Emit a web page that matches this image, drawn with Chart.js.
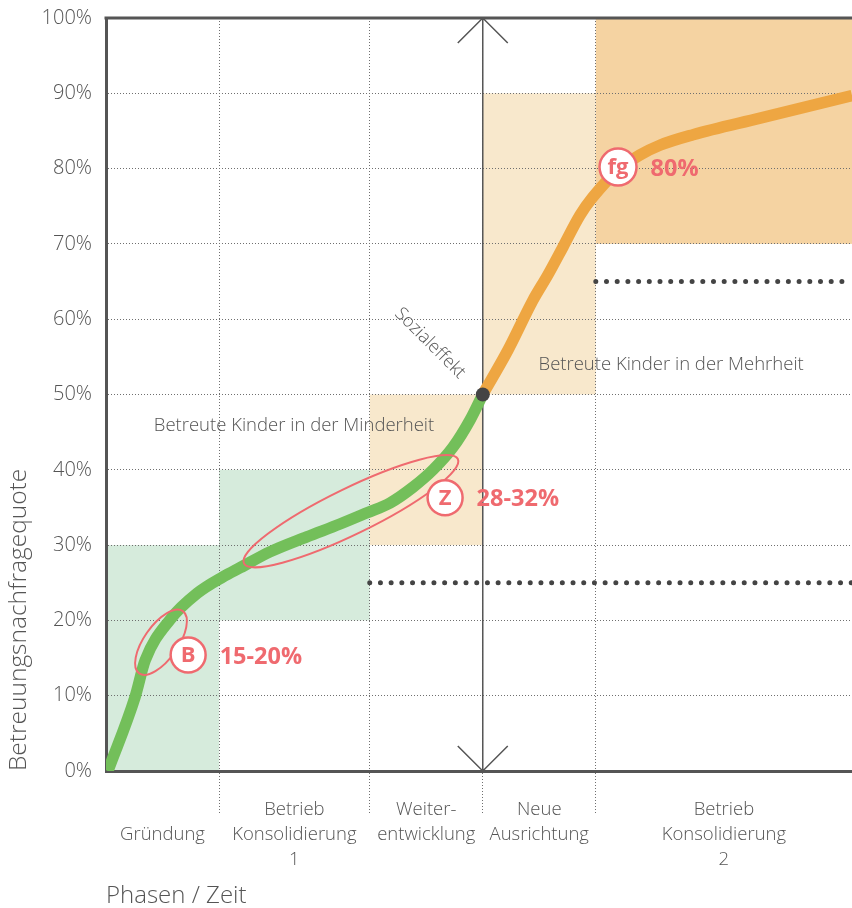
<!DOCTYPE html>
<html>
<head>
<meta charset="utf-8">
<script src="https://cdn.jsdelivr.net/npm/chart.js@4/dist/chart.umd.min.js"></script>
<style>
  html, body { margin:0; padding:0; background:#fff; }
  #wrap { width:852px; height:908px; }
</style>
</head>
<body>
<div id="wrap"><canvas id="chart" width="852" height="908"></canvas></div>
<script>
/* phases along the time axis */
const phaseBounds = [0, 3, 7, 10, 13, 19.8];
const phaseLabels = [
  ['', 'Gründung', ''],
  ['Betrieb', 'Konsolidierung', '1'],
  ['Weiter-', 'entwicklung', ''],
  ['Neue', 'Ausrichtung', ''],
  ['Betrieb', 'Konsolidierung', '2'],
];
const yTickValues = [0, 10, 20, 30, 40, 50, 60, 70, 80, 90, 100];

/* demand curve: green up to the social effect, orange after it */
const greenX = [0.05, 0.77, 1.04, 1.70, 2.42, 3.11, 3.56, 4.35, 5.33, 6.21, 6.93, 7.54, 8.15, 8.68, 9.21, 9.66, 10.0];
const greenY = [0, 9.8, 14.7, 20.1, 23.6, 25.8, 27.0, 29.1, 31.1, 32.8, 34.3, 35.6, 37.7, 40.0, 43.0, 46.6, 50.0];
const orangeX = [10.0, 10.67, 11.33, 11.73, 12.13, 12.58, 12.92, 13.59, 14.17, 14.70, 15.58, 17.36, 19.8];
const orangeY = [50.0, 55.9, 62.5, 65.9, 69.6, 73.8, 76.2, 79.8, 81.8, 83.1, 84.5, 86.7, 89.7];

/* shaded target zones */
const zoneX0 = [0, 3, 7, 10, 13];
const zoneX1 = [3, 7, 10, 13, 19.8];
const zoneY0 = [0, 20, 30, 50, 70];
const zoneY1 = [30, 40, 50, 90, 100];
const zoneColors = ['#d6ebdc', '#d6ebdc', '#f8e8cc', '#f8e8cc', '#f5d3a2'];

/* dotted threshold lines */
const thresholdY = [25, 65];
const thresholdFrom = [7, 13];

/* red markers */
const markerLetters = ['B', 'Z', 'fg'];
const markerX = [2.18, 9.0, 13.59];
const markerY = [15.4, 36.3, 80.2];
const markerTexts = ['15-20%', '28-32%', '80%'];
const ellipseX = [1.46, 6.5];
const ellipseY = [17.1, 34.5];

const RED = '#ef6a6f';
const GREY = '#555';
const GRID = '#6f6f6f';
const FONT = '"Open Sans", "DejaVu Sans", sans-serif';
const xMax = phaseBounds[phaseBounds.length - 1];
const TOP = 18;

const pts = (xs, ys) => xs.map((x, i) => ({ x, y: ys[i] }));

const shading = {
  id: 'shading',
  beforeDraw(chart) {
    const { ctx, scales: { x, y } } = chart;
    ctx.save();
    zoneX0.forEach((v, i) => {
      const l = x.getPixelForValue(v), r = x.getPixelForValue(zoneX1[i]);
      const t = y.getPixelForValue(zoneY1[i]), b = y.getPixelForValue(zoneY0[i]);
      ctx.fillStyle = zoneColors[i];
      ctx.fillRect(l, t, r - l, b - t);
    });
    ctx.restore();
  },
  beforeDatasetsDraw(chart) {
    // the "Sozialeffekt" axis with arrow heads at both ends
    const { ctx, chartArea: a, scales: { x } } = chart;
    const px = x.getPixelForValue(phaseBounds[3]);
    ctx.save();
    ctx.strokeStyle = GREY;
    ctx.lineWidth = 1.5;
    ctx.beginPath();
    ctx.moveTo(px, a.top); ctx.lineTo(px, a.bottom);
    ctx.moveTo(px - 25, a.top + 25); ctx.lineTo(px, a.top); ctx.lineTo(px + 25, a.top + 25);
    ctx.moveTo(px - 25, a.bottom - 25); ctx.lineTo(px, a.bottom); ctx.lineTo(px + 25, a.bottom - 25);
    ctx.stroke();
    // top frame
    ctx.lineWidth = 3;
    ctx.beginPath();
    ctx.moveTo(a.left - 1.5, a.top); ctx.lineTo(a.right, a.top);
    ctx.stroke();
    ctx.restore();
  }
};

const overlay = {
  id: 'overlay',
  afterDatasetsDraw(chart) {
    const { ctx, scales: { x, y } } = chart;
    ctx.save();
    // zone captions
    ctx.fillStyle = GREY;
    ctx.font = '300 18.5px ' + FONT;
    ctx.textAlign = 'center';
    ctx.textBaseline = 'middle';
    ctx.fillText('Betreute Kinder in der Minderheit', x.getPixelForValue(4.99), y.getPixelForValue(45.9));
    ctx.fillText('Betreute Kinder in der Mehrheit', x.getPixelForValue(15.0), y.getPixelForValue(53.9));
    ctx.save();
    ctx.translate(x.getPixelForValue(8.6), y.getPixelForValue(56.8));
    ctx.rotate(Math.PI / 4);
    ctx.font = '300 18px ' + FONT;
    ctx.fillText('Sozialeffekt', 0, 0);
    ctx.restore();

    // ellipses
    ctx.strokeStyle = RED;
    ctx.lineWidth = 2;
    const ell = [[38, 17, -55], [119, 23, -26]];
    ellipseX.forEach((v, i) => {
      ctx.beginPath();
      ctx.ellipse(x.getPixelForValue(v), y.getPixelForValue(ellipseY[i]), ell[i][0], ell[i][1], ell[i][2] * Math.PI / 180, 0, Math.PI * 2);
      ctx.stroke();
    });

    // circled letters + values
    markerLetters.forEach((m, i) => {
      const cx = x.getPixelForValue(markerX[i]), cy = y.getPixelForValue(markerY[i]);
      const r = m.length > 1 ? 18.5 : 17.5;
      ctx.beginPath();
      ctx.arc(cx, cy, r, 0, Math.PI * 2);
      ctx.fillStyle = '#fff';
      ctx.fill();
      ctx.lineWidth = 2.5;
      ctx.stroke();
      ctx.fillStyle = RED;
      ctx.font = 'bold 22px ' + FONT;
      ctx.textAlign = 'center';
      ctx.fillText(m, cx, cy + 1);
      ctx.textAlign = 'left';
      ctx.font = 'bold 23.5px ' + FONT;
      ctx.fillText(markerTexts[i], cx + r + 14, cy + 2);
    });
    ctx.restore();
  },
  afterDraw(chart) {
    const { ctx, chartArea: a, scales: { x } } = chart;
    ctx.save();
    ctx.fillStyle = GREY;
    ctx.font = '300 18.5px ' + FONT;
    ctx.textAlign = 'center';
    ctx.textBaseline = 'middle';
    phaseLabels.forEach((lines, i) => {
      const cx = (x.getPixelForValue(phaseBounds[i]) + x.getPixelForValue(phaseBounds[i + 1])) / 2;
      lines.forEach((t, j) => { if (t) ctx.fillText(t, cx, a.bottom + 39 + j * 25); });
    });
    ctx.font = '300 24px ' + FONT;
    ctx.textAlign = 'left';
    ctx.fillText('Phasen / Zeit', a.left, a.bottom + 125);
    ctx.font = '300 24.5px ' + FONT;
    ctx.translate(19, a.bottom);
    ctx.rotate(-Math.PI / 2);
    ctx.fillText('Betreuungsnachfragequote', 0, 0);
    ctx.restore();
  }
};

const thresholdSets = thresholdY.map((v, i) => ({
  data: [{ x: thresholdFrom[i], y: v }, { x: xMax, y: v }],
  borderColor: '#444',
  borderWidth: 5,
  borderDash: [0, 10.7],
  borderCapStyle: 'round',
  pointRadius: 0,
  order: 3,
}));

const chart = new Chart(document.getElementById('chart'), {
  type: 'line',
  data: {
    datasets: [
      { data: [{ x: 10, y: 50 }], pointRadius: 7, pointBackgroundColor: '#444', pointBorderWidth: 0, showLine: false, order: 0 },
      { data: pts(orangeX, orangeY), borderColor: '#eea642', borderWidth: 11.5, cubicInterpolationMode: 'monotone', pointRadius: 0, clip: 0, order: 1 },
      { data: pts(greenX, greenY), borderColor: '#73bf5a', borderWidth: 11.5, cubicInterpolationMode: 'monotone', pointRadius: 0, clip: 0, order: 2 },
      ...thresholdSets,
    ]
  },
  options: {
    responsive: false,
    animation: false,
    layout: { autoPadding: false, padding: { top: TOP, left: 0, right: 0, bottom: 0 } },
    plugins: { legend: { display: false }, tooltip: { enabled: false } },
    scales: {
      x: {
        type: 'linear', min: 0, max: xMax,
        afterBuildTicks: s => { s.ticks = phaseBounds.slice(1, 5).map(v => ({ value: v })); },
        afterFit: s => { s.height = 137; s.paddingLeft = 0; s.paddingRight = 0; },
        ticks: { display: false },
        grid: { color: GRID, lineWidth: 1, drawTicks: true, tickLength: 44, tickBorderDash: [1, 2] },
        border: { display: true, color: GREY, width: 3, dash: [1, 2] },
      },
      y: {
        min: 0, max: 100,
        afterBuildTicks: s => { s.ticks = yTickValues.map(v => ({ value: v })); },
        afterFit: s => { s.width = 106; s.paddingTop = 0; s.paddingBottom = 0; },
        ticks: { callback: v => v + '%', color: GREY, padding: 14, font: { family: FONT, size: 20, weight: 300 } },
        grid: { color: GRID, lineWidth: 1, drawTicks: false },
        border: { display: true, color: GREY, width: 3, dash: [1, 2] },
      }
    }
  },
  plugins: [shading, overlay]
});

// keep the plot top on the reference frame line
const shift = chart.chartArea.top - TOP;
if (Math.abs(shift) > 0.5) {
  chart.options.layout.padding = { top: Math.max(0, TOP - shift), left: 0, right: 0, bottom: 0 };
  chart.update();
}
</script>
</body>
</html>
